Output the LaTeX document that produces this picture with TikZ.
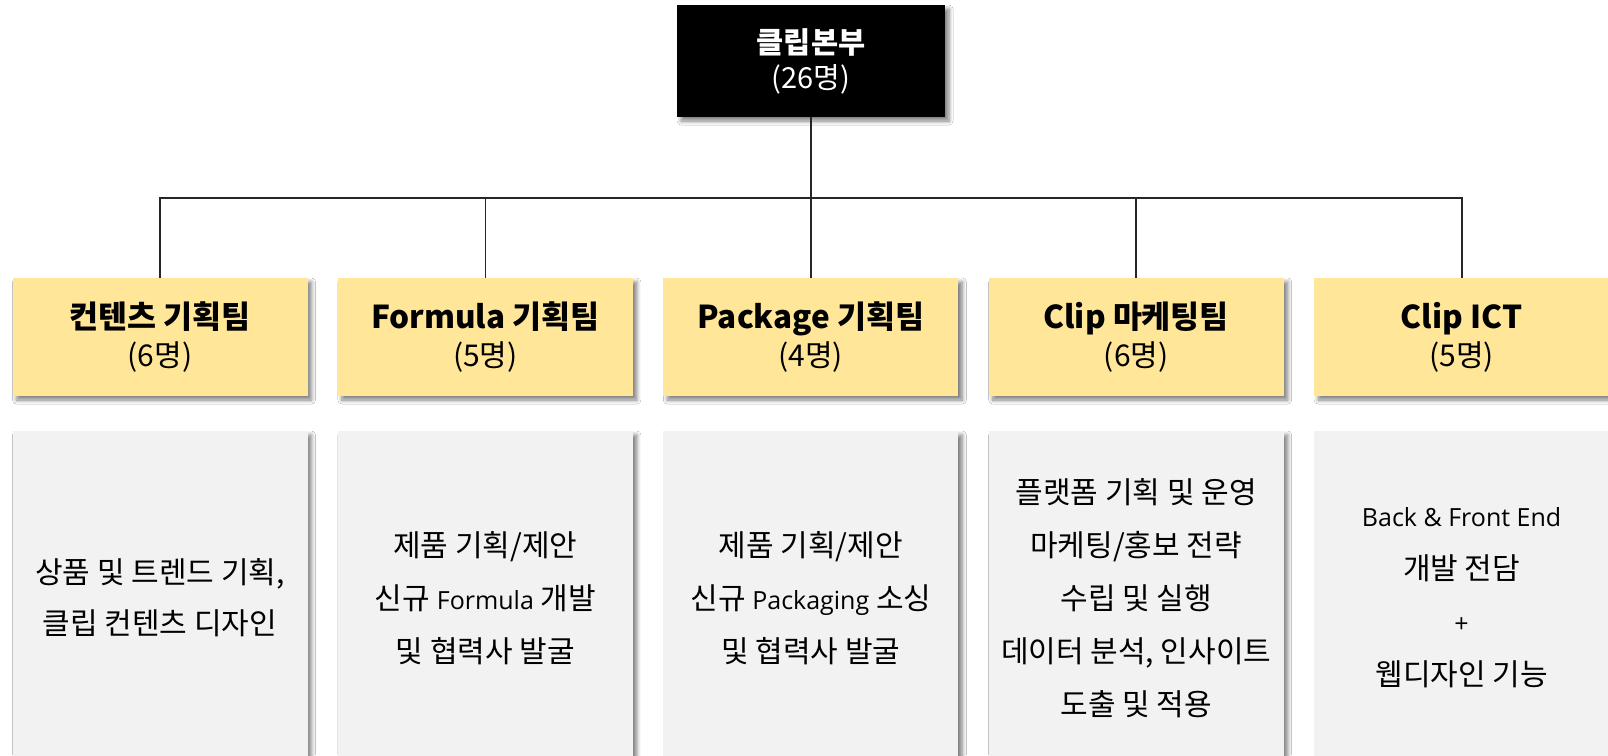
\documentclass[tikz,border=0pt]{standalone}
\usepackage{fontspec}
\setmainfont{Noto Sans CJK KR}
\newfontfamily\lat{Open Sans}
\usetikzlibrary{shadows.blur}
\definecolor{hdy}{HTML}{FFE699}
\definecolor{bdg}{HTML}{F2F2F2}
\newcommand{\la}[1]{{\lat\fontsize{25}{53}\selectfont #1}}
\newcommand{\ttl}[2]{{\fontsize{29.5}{35}\selectfont\bfseries #1}\\{\fontsize{29}{35}\selectfont #2}}
\newcommand{\hd}[2]{{\fontsize{31.5}{38}\selectfont\bfseries #1}\\{\fontsize{30}{38}\selectfont #2}}
\begin{document}
\begin{tikzpicture}[x=1pt,y=-1pt,
 shd/.style={blur shadow={shadow xshift=4pt,shadow yshift=-4pt,shadow blur radius=4pt,shadow blur steps=6,shadow opacity=50}},
 topbox/.style={fill=black, minimum width=268pt, minimum height=112pt, inner sep=0pt, align=center, text=white, font=\fontsize{29}{35}\selectfont, shd},
 headbox/.style={fill=hdy, minimum width=295pt, minimum height=118pt, inner sep=0pt, align=center, font=\fontsize{30}{38}\selectfont, shd},
 bodybox/.style={fill=bdg, minimum width=295pt, minimum height=334pt, inner sep=0pt, align=center, font=\fontsize{30}{53}\selectfont, shd},
 conn/.style={draw=black!85, line width=1.8pt}]
\fill[white] (0,0) rectangle (1608,755);
\useasboundingbox (0,0) rectangle (1608,755);
\node[topbox] (top) at (811,61) {\ttl{클립본부}{(26명)}};
\node[headbox] (h1) at (160,337) {\hd{컨텐츠 기획팀}{(6명)}};
\node[headbox] (h2) at (485.4,337) {\hd{Formula 기획팀}{(5명)}};
\node[headbox] (h3) at (810.8,337) {\hd{Package 기획팀}{(4명)}};
\node[headbox] (h4) at (1136.2,337) {\hd{Clip 마케팅팀}{(6명)}};
\node[headbox] (h5) at (1461.6,337) {\hd{Clip ICT}{(5명)}};
\node[bodybox] (b1) at (160,598) {상품 및 트렌드 기획,\\[-2pt]클립 컨텐츠 디자인};
\node[bodybox] (b2) at (485.4,598) {제품 기획/제안\\신규 \la{Formula} 개발\\및 협력사 발굴};
\node[bodybox] (b3) at (810.8,598) {제품 기획/제안\\신규 \la{Packaging} 소싱\\및 협력사 발굴};
\node[bodybox] (b4) at (1136.2,598) {플랫폼 기획 및 운영\\마케팅/홍보 전략\\수립 및 실행\\데이터 분석, 인사이트\\도출 및 적용};
\node[bodybox] (b5) at (1461.6,598) {\la{Back \& Front End}\\개발 전담\\\la{+}\\웹디자인 기능};
\coordinate (bus) at (811,198);
\foreach \n in {h1,h2,h3,h4,h5}
  \draw[conn] (top.south) -- (bus) -| (\n.north);
\end{tikzpicture}
\end{document}
